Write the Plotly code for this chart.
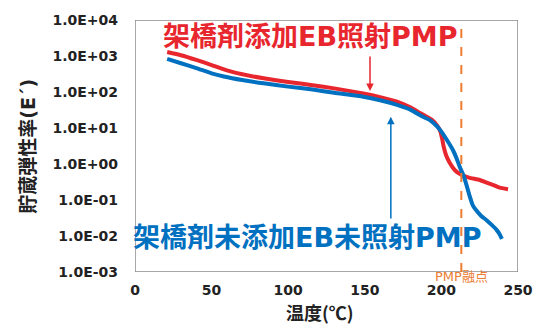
import math
import plotly.graph_objects as go

# ---- data ----
temp_red = [21, 30, 40, 50, 60, 70, 84, 100, 116, 130, 149, 160, 171, 180, 186, 190,
            194, 197, 199, 200.5, 201.5, 203, 205.5, 209, 213, 218, 225, 230, 234, 238, 243.5]
mod_red = [1290, 1050, 780, 560, 400, 310, 240, 190, 155, 126, 91, 72, 54, 37, 26, 21,
           16.6, 12, 8.7, 5.0, 3.0, 1.78, 1.07, 0.66, 0.50, 0.42, 0.36, 0.30, 0.26, 0.22, 0.20]

temp_blue = [21, 30, 40, 50, 58, 70, 84, 100, 116, 130, 149, 160, 171, 180, 188, 192.5,
             197, 200, 203.5, 207.5, 210, 212, 214.5, 216.5, 218.5, 220.5, 223, 226, 229.5,
             233, 236, 238, 239.5]
mod_blue = [830, 630, 460, 330, 270, 215, 174, 141, 117, 95, 74, 59, 44, 32, 20.4, 16.6,
            11.2, 7.9, 4.7, 2.45, 1.41, 0.83, 0.47, 0.25, 0.126, 0.071, 0.050, 0.036, 0.0275,
            0.020, 0.0148, 0.0112, 0.0083]

y_tickvals = [1e-3, 1e-2, 1e-1, 1e0, 1e1, 1e2, 1e3, 1e4]
y_ticktext = ["1.0E-03", "1.0E-02", "1.0E-01", "1.0E+00", "1.0E+01", "1.0E+02", "1.0E+03", "1.0E+04"]
x_tickvals = [0, 50, 100, 150, 200, 250]
x_range = [0, 250]
y_range_log = [-3, 4]

melting_point = 213
label_red = "架橋剤添加EB照射PMP"
label_blue = "架橋剤未添加EB未照射PMP"
label_mp = "PMP融点"
x_title = "温度(℃)"
y_title = "貯蔵弾性率(E´)"

# arrow pointer positions (temperature, modulus)
red_arrow_x, red_arrow_head, red_arrow_tail = 153.4, 107, 1070
blue_arrow_x, blue_arrow_head, blue_arrow_tail = 167, 20.4, 0.028

RED = "#E8262E"
BLUE = "#0070C0"
ORANGE = "#ED7D31"
TXT = "#222222"
FRAME = "#8c8c8c"
MIX = "DejaVu Sans, Noto Sans CJK JP"
CJK = "Noto Sans CJK JP"
TICKFONT = "DejaVu Sans"

fig = go.Figure()

# plot-area frame drawn along the axis limits
x0, x1 = x_range
y0, y1 = 10 ** y_range_log[0], 10 ** y_range_log[1]
fig.add_trace(go.Scatter(x=[x0, x1, x1, x0, x0], y=[y0, y0, y1, y1, y0], mode="lines",
                         line=dict(color=FRAME, width=1.5), cliponaxis=False,
                         showlegend=False, hoverinfo="skip"))

fig.add_trace(go.Scatter(x=temp_red, y=mod_red, mode="lines",
                         line=dict(color=RED, width=4, shape="spline", smoothing=0.5),
                         showlegend=False, hoverinfo="skip"))
fig.add_trace(go.Scatter(x=temp_blue, y=mod_blue, mode="lines",
                         line=dict(color=BLUE, width=4, shape="spline", smoothing=0.5),
                         showlegend=False, hoverinfo="skip"))

# melting point line
fig.add_shape(type="line", x0=melting_point, x1=melting_point, xref="x",
              y0=0, y1=1, yref="paper",
              line=dict(color=ORANGE, width=2, dash="dash"))

fig.update_layout(
    width=539, height=324,
    margin=dict(l=135, r=21, t=20, b=52),
    paper_bgcolor="white", plot_bgcolor="white",
    xaxis=dict(range=x_range, tickvals=x_tickvals, showgrid=False, zeroline=False,
               showline=False, ticks="", automargin=False,
               tickfont=dict(family=TICKFONT, size=14, color=TXT, weight="bold"),
               ticklabelstandoff=8),
    yaxis=dict(type="log", range=y_range_log, tickvals=y_tickvals, ticktext=y_ticktext,
               showgrid=False, zeroline=False, showline=False,
               ticks="", automargin=False,
               tickfont=dict(family=TICKFONT, size=14, color=TXT, weight="bold"),
               ticklabelstandoff=16),
    annotations=[
        dict(text=label_red, x=0.457, y=0.933, xref="paper", yref="paper", showarrow=False,
             xanchor="center", yanchor="middle",
             font=dict(family=MIX, size=27, color=RED, weight="bold")),
        dict(text=label_blue, x=0.448, y=0.135, xref="paper", yref="paper", showarrow=False,
             xanchor="center", yanchor="middle",
             font=dict(family=MIX, size=27, color=BLUE, weight="bold")),
        dict(text=label_mp, x=melting_point, y=-0.018, xref="x", yref="paper",
             showarrow=False, xanchor="center", yanchor="middle",
             font=dict(family=MIX, size=13, color=ORANGE)),
        dict(text=x_title, x=0.484, y=-0.158, xref="paper", yref="paper", showarrow=False,
             xanchor="center", yanchor="middle",
             font=dict(family=CJK, size=18, color=TXT, weight="bold")),
        dict(text=y_title, x=-0.28, y=0.5, xref="paper", yref="paper", showarrow=False,
             xanchor="center", yanchor="middle", textangle=-90,
             font=dict(family=MIX, size=19, color=TXT, weight="bold")),
        dict(x=red_arrow_x, y=math.log10(red_arrow_head),
             ax=red_arrow_x, ay=math.log10(red_arrow_tail),
             xref="x", yref="y", axref="x", ayref="y",
             text="", showarrow=True, arrowhead=2, arrowsize=1, arrowwidth=1.5,
             arrowcolor=RED),
        dict(x=blue_arrow_x, y=math.log10(blue_arrow_head),
             ax=blue_arrow_x, ay=math.log10(blue_arrow_tail),
             xref="x", yref="y", axref="x", ayref="y",
             text="", showarrow=True, arrowhead=2, arrowsize=1, arrowwidth=1.5,
             arrowcolor=BLUE),
    ],
)

fig.write_html("out.html", config={"displayModeBar": False},
               post_script="document.body.style.margin='0';")
